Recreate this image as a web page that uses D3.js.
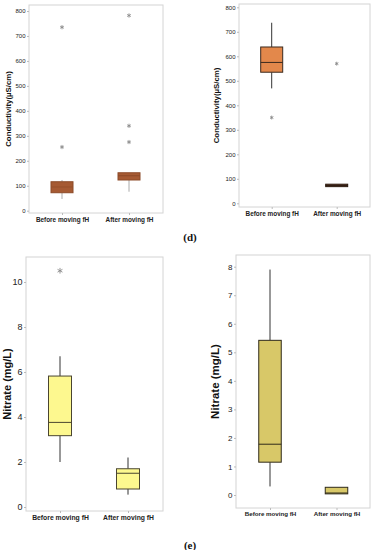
<!DOCTYPE html>
<html><head><meta charset="utf-8">
<script src="https://cdn.jsdelivr.net/npm/d3@7/dist/d3.min.js"></script>
<style>body{margin:0;background:#fff}svg{display:block}</style>
</head><body>
<svg id="c" width="374" height="550"></svg>
<script>
const categories = ["Before moving fH", "After moving fH"];
// [whiskerLow, q1, median, q3, whiskerHigh]
const condLeftStats = [[47, 72, 95, 116, 123], [76, 123, 140, 152, 152]];
const condLeftOutliers = [[735, 255], [782, 340, 275]];
const condRightStats = [[469, 535, 575, 638, 737], [68, 68, 73, 78, 78]];
const condRightOutliers = [[350], [570]];
const nitLeftStats = [[2.0, 3.17, 3.76, 5.82, 6.7], [0.55, 0.8, 1.5, 1.7, 2.2]];
const nitLeftOutliers = [[10.5], []];
const nitRightStats = [[0.3, 1.15, 1.78, 5.42, 7.9], [0.04, 0.04, 0.07, 0.27, 0.27]];
const nitRightOutliers = [[], []];
const condTicks = [0, 100, 200, 300, 400, 500, 600, 700, 800];
const nitLeftTicks = [0, 2, 4, 6, 8, 10];
const nitRightTicks = [0, 1, 2, 3, 4, 5, 6, 7, 8];

const svg = d3.select("#c");

function panel(o) {
  const g = svg.append("g");
  const y = d3.scaleLinear().domain(o.domain).range([o.y0, o.y1]);
  const x = d3.scalePoint().domain(categories).range(o.xs);
  g.append("rect").attr("x", o.fl).attr("y", o.ft).attr("width", o.fr - o.fl).attr("height", o.fb - o.ft)
    .attr("fill", "none").attr("stroke", "#d4d4d4").attr("stroke-width", 1);
  const ya = g.append("g").attr("transform", `translate(${o.fl},0)`)
    .call(d3.axisLeft(y).tickValues(o.ticks).tickSize(2).tickPadding(1.5));
  ya.select(".domain").remove();
  ya.selectAll("line").attr("stroke", "#bbb");
  ya.selectAll("text").attr("fill", "#222").style("font-family", "Liberation Sans, Arial, sans-serif")
    .style("font-size", o.tickFont + "px").style("font-weight", o.tickWeight);
  const xa = g.append("g").attr("transform", `translate(0,${o.fb})`)
    .call(d3.axisBottom(x).tickSize(2).tickPadding(2));
  xa.select(".domain").remove();
  xa.selectAll("line").attr("stroke", "#bbb");
  xa.selectAll("text").attr("fill", "#222").style("font-family", "Liberation Sans, Arial, sans-serif")
    .style("font-size", o.catFont + "px").style("font-weight", "bold");
  g.append("text").attr("transform", `translate(${o.titleX},${(o.ft + o.fb) / 2}) rotate(-90)`)
    .attr("text-anchor", "middle").attr("fill", "#111")
    .style("font-family", "Liberation Sans, Arial, sans-serif").style("font-weight", "bold")
    .style("font-size", o.titleFont + "px").text(o.title);
  categories.forEach((c, i) => {
    const s = o.stats[i];
    const cx = x(c);
    const w = o.boxW;
    g.append("line").attr("x1", cx).attr("x2", cx).attr("y1", y(s[0])).attr("y2", y(s[1]))
      .attr("stroke", o.whisker).attr("stroke-width", 1);
    g.append("line").attr("x1", cx).attr("x2", cx).attr("y1", y(s[3])).attr("y2", y(s[4]))
      .attr("stroke", o.whisker).attr("stroke-width", 1);
    g.append("rect").attr("x", cx - w / 2).attr("width", w).attr("y", y(s[3]))
      .attr("height", Math.max(1, y(s[1]) - y(s[3]))).attr("fill", o.fills[i])
      .attr("stroke", o.boxStroke[i]).attr("stroke-width", 1);
    g.append("line").attr("x1", cx - w / 2).attr("x2", cx + w / 2).attr("y1", y(s[2])).attr("y2", y(s[2]))
      .attr("stroke", o.medStroke[i]).attr("stroke-width", 1);
    o.outliers[i].forEach(v => {
      g.append("path").attr("d", d3.symbol(d3.symbolAsterisk, o.outSize)())
        .attr("transform", `translate(${cx},${y(v)})`).attr("fill", "none")
        .attr("stroke", "#8a8a8a").attr("stroke-width", 0.9);
    });
  });
}

panel({
  domain: [0, 800], y0: 210.7, y1: 11, xs: [62, 129], fl: 29, fr: 163, ft: 5, fb: 213,
  ticks: condTicks, tickFont: 6, tickWeight: "normal", catFont: 6.4, titleFont: 7.8, titleX: 11,
  title: "Conductivity(µS/cm)", stats: condLeftStats, outliers: condLeftOutliers,
  fills: ["#a65a33", "#a65a33"], boxStroke: ["#8c4a28", "#8c4a28"], medStroke: ["#96502c", "#8c4a28"],
  whisker: "#aaa", boxW: 22, outSize: 12
});
panel({
  domain: [0, 800], y0: 203.3, y1: 7.3, xs: [271.7, 336.7], fl: 239, fr: 370, ft: 4, fb: 207,
  ticks: condTicks, tickFont: 6, tickWeight: "normal", catFont: 6.4, titleFont: 7.8, titleX: 219,
  title: "Conductivity(µS/cm)", stats: condRightStats, outliers: condRightOutliers,
  fills: ["#e3884b", "#7a4a33"], boxStroke: ["#3b2a1e", "#2a1a10"], medStroke: ["#3b2a1e", "#2a1a10"],
  whisker: "#333", boxW: 22, outSize: 10
});
panel({
  domain: [0, 10], y0: 507, y1: 282, xs: [60, 128], fl: 26, fr: 163, ft: 257, fb: 511,
  ticks: nitLeftTicks, tickFont: 9, tickWeight: "normal", catFont: 6.8, titleFont: 11, titleX: 11,
  title: "Nitrate (mg/L)", stats: nitLeftStats, outliers: nitLeftOutliers,
  fills: ["#fdf88f", "#fdf88f"], boxStroke: ["#4a4530", "#4a4530"], medStroke: ["#4a4530", "#4a4530"],
  whisker: "#333", boxW: 23, outSize: 22
});
panel({
  domain: [0, 8], y0: 495, y1: 266.7, xs: [270, 336.5], fl: 236, fr: 370, ft: 255, fb: 508,
  ticks: nitRightTicks, tickFont: 8, tickWeight: "normal", catFont: 6.2, titleFont: 11.5, titleX: 219,
  title: "Nitrate (mg/L)", stats: nitRightStats, outliers: nitRightOutliers,
  fills: ["#d8c868", "#d8c868"], boxStroke: ["#2f2a1a", "#2f2a1a"], medStroke: ["#2f2a1a", "#2f2a1a"],
  whisker: "#333", boxW: 22.5, outSize: 20
});

svg.append("text").attr("x", 190).attr("y", 241).attr("text-anchor", "middle")
  .style("font-family", "Liberation Serif, serif").style("font-size", "11px").style("font-weight", "bold")
  .attr("fill", "#111").text("(d)");
svg.append("text").attr("x", 190).attr("y", 549).attr("text-anchor", "middle")
  .style("font-family", "Liberation Serif, serif").style("font-size", "11px").style("font-weight", "bold")
  .attr("fill", "#111").text("(e)");
</script>
</body></html>
